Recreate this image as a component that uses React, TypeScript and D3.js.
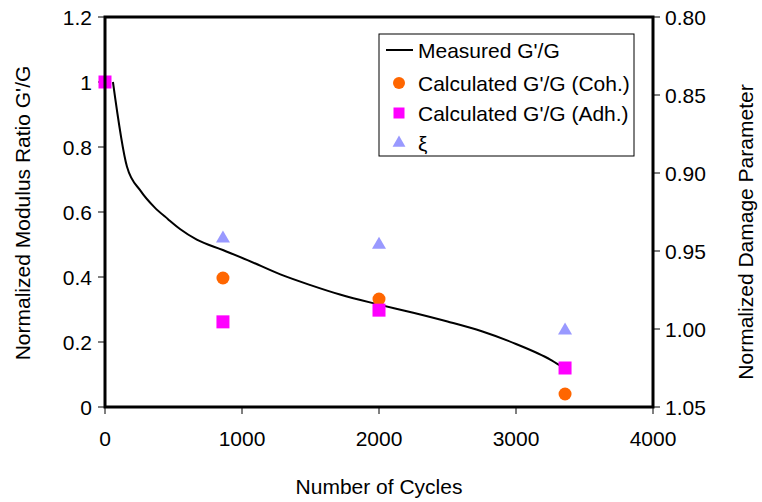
import React from "react";
import * as d3 from "d3";

const measuredCycles = [58, 160, 260, 360, 460, 550, 670, 860, 1040, 1280, 1500, 1715, 2000, 2250, 2500, 2750, 3000, 3150, 3250, 3320];
const measuredRatio = [1.0, 0.74, 0.665, 0.615, 0.578, 0.547, 0.515, 0.483, 0.452, 0.408, 0.375, 0.346, 0.315, 0.29, 0.263, 0.233, 0.194, 0.167, 0.146, 0.128];

const cohCycles = [861, 2000, 3358];
const cohRatio = [0.397, 0.332, 0.04];

const adhCycles = [0, 861, 2000, 3358];
const adhRatio = [1.0, 0.262, 0.298, 0.12];

const xiCycles = [861, 2000, 3358];
const xiValues = [0.942, 0.946, 1.001];

const xTicks = [0, 1000, 2000, 3000, 4000];
const yTicks = [0, 0.2, 0.4, 0.6, 0.8, 1, 1.2];
const y2Ticks = [0.8, 0.85, 0.9, 0.95, 1.0, 1.05];

const legendLabels = ["Measured G'/G", "Calculated G'/G (Coh.)", "Calculated G'/G (Adh.)", "ξ"];

export default function App() {
  const W = 762, H = 502;
  const L = 105, R = 653, T = 17, B = 407;
  const x = d3.scaleLinear().domain([0, 4000]).range([L, R]);
  const y = d3.scaleLinear().domain([0, 1.2]).range([B, T]);
  const y2 = d3.scaleLinear().domain([0.8, 1.05]).range([T, B]);
  const line = d3.line<number>().x((d, i) => x(measuredCycles[i])).y((d) => y(d)).curve(d3.curveMonotoneX);
  const font = "Liberation Sans, Arial, sans-serif";
  const fs = 21;
  const tri = d3.symbol().type(d3.symbolTriangle).size(85)();
  const triL = d3.symbol().type(d3.symbolTriangle).size(72)();
  const lx = 379, ly = 34;
  const rows = [50, 83, 113, 143];
  return (
    <svg width={W} height={H} style={{ position: "absolute", left: 0, top: 0 }} fontFamily={font}>
      <rect width={W} height={H} fill="#fff" />
      {xTicks.map((t) => (
        <line key={"xt" + t} x1={x(t)} x2={x(t)} y1={B} y2={B + 7} stroke="#000" strokeWidth={1} />
      ))}
      {yTicks.map((t) => (
        <line key={"yt" + t} x1={L - 7} x2={L} y1={y(t)} y2={y(t)} stroke="#000" strokeWidth={1} />
      ))}
      {y2Ticks.map((t) => (
        <line key={"y2t" + t} x1={R} x2={R + 7} y1={y2(t)} y2={y2(t)} stroke="#000" strokeWidth={1} />
      ))}
      {xTicks.map((t) => (
        <text key={"xl" + t} x={x(t)} y={446} fontSize={fs} textAnchor="middle">{t}</text>
      ))}
      {yTicks.map((t) => (
        <text key={"yl" + t} x={92} y={y(t) + 7.5} fontSize={fs} textAnchor="end">{String(t)}</text>
      ))}
      {y2Ticks.map((t) => (
        <text key={"y2l" + t} x={665} y={y2(t) + 7.5} fontSize={fs} textAnchor="start">{t.toFixed(2)}</text>
      ))}
      <text x={(L + R) / 2} y={494} fontSize={fs} textAnchor="middle">Number of Cycles</text>
      <text transform={`translate(30,213) rotate(-90)`} fontSize={fs} textAnchor="middle">Normalized Modulus Ratio G'/G</text>
      <text transform={`translate(753,232) rotate(-90)`} fontSize={fs} textAnchor="middle">Normalized Damage Parameter</text>
      <path d={line(measuredRatio) || ""} fill="none" stroke="#000" strokeWidth={2} />
      {xiCycles.map((c, i) => (
        <path key={"xi" + i} d={tri || ""} transform={`translate(${x(c)},${y2(xiValues[i])})`} fill="#9999ff" />
      ))}
      {cohCycles.map((c, i) => (
        <circle key={"coh" + i} cx={x(c)} cy={y(cohRatio[i])} r={6.5} fill="#ff6600" />
      ))}
      {adhCycles.map((c, i) => (
        <rect key={"adh" + i} x={x(c) - 6.5} y={y(adhRatio[i]) - 6.5} width={13} height={13} fill="#ff00ff" />
      ))}
      <rect x={L} y={T} width={R - L} height={B - T} fill="none" stroke="#000" strokeWidth={3} />
      <rect x={lx} y={ly} width={255} height={122} fill="#fff" stroke="#000" strokeWidth={1} />
      <line x1={386} x2={413} y1={rows[0]} y2={rows[0]} stroke="#000" strokeWidth={2} />
      <circle cx={399} cy={rows[1]} r={6} fill="#ff6600" />
      <rect x={393.5} y={rows[2] - 5.5} width={11} height={11} fill="#ff00ff" />
      <path d={triL || ""} transform={`translate(399,${rows[3]})`} fill="#9999ff" />
      {legendLabels.map((s, i) => (
        <text key={"lg" + i} x={418} y={rows[i] + 7.5} fontSize={fs}>{s}</text>
      ))}
    </svg>
  );
}
